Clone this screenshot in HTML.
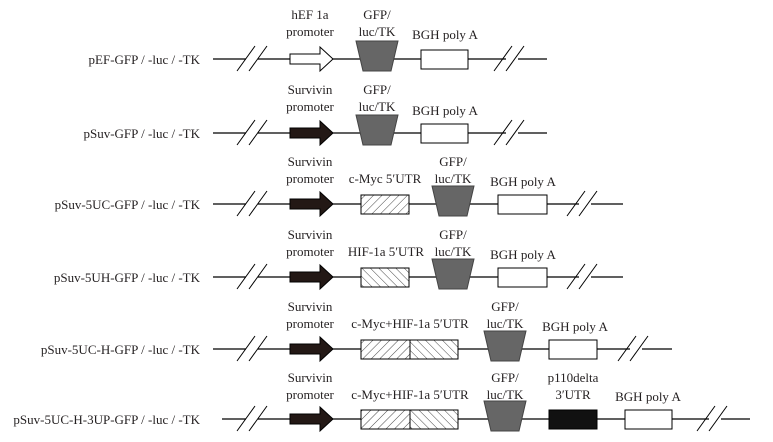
<!DOCTYPE html>
<html><head><meta charset="utf-8"><style>
html,body{margin:0;padding:0;background:#fff;}
svg{display:block;}
text{font-family:"Liberation Serif",serif;font-size:13px;fill:#231f20;}
</style></head><body>
<svg width="773" height="442" viewBox="0 0 773 442" xmlns="http://www.w3.org/2000/svg">
<defs>
<pattern id="hr" width="6" height="6" patternUnits="userSpaceOnUse" patternTransform="rotate(45)"><rect width="6" height="6" fill="#fff"/><line x1="0" y1="0" x2="0" y2="6" stroke="#333" stroke-width="0.9"/></pattern>
<pattern id="hl" width="6" height="6" patternUnits="userSpaceOnUse" patternTransform="rotate(-45)"><rect width="6" height="6" fill="#fff"/><line x1="0" y1="0" x2="0" y2="6" stroke="#333" stroke-width="0.9"/></pattern>
<g id="sl"><line x1="0" y1="12" x2="18" y2="-13" stroke="#000" stroke-width="1"/><line x1="12" y1="12" x2="30" y2="-13" stroke="#000" stroke-width="1"/></g>
<path id="arw" d="M0,-5 H30 V-12 L43,0 L30,12 V5 H0 Z"/>
<path id="trap" d="M0,-19 H42 L35,11 H7 Z" fill="#666" stroke="#444" stroke-width="1"/>
</defs>
<g stroke="#000" stroke-width="1.2" fill="none">
<path d="M213,59H246M258,59H506M518,59H547"/>
<path d="M213,133H246M258,133H506M518,133H547"/>
<path d="M213,204H246M258,204H579M591,204H623"/>
<path d="M213,277H246M258,277H579M591,277H623"/>
<path d="M213,349H246M258,349H630M642,349H672"/>
<path d="M222,419H246M258,419H709M721,419H750"/>
</g>
<g transform="translate(237,59)"><use href="#sl"/></g><g transform="translate(494,59)"><use href="#sl"/></g>
<g transform="translate(237,133)"><use href="#sl"/></g><g transform="translate(494,133)"><use href="#sl"/></g>
<g transform="translate(237,204)"><use href="#sl"/></g><g transform="translate(567,204)"><use href="#sl"/></g>
<g transform="translate(237,277)"><use href="#sl"/></g><g transform="translate(567,277)"><use href="#sl"/></g>
<g transform="translate(237,349)"><use href="#sl"/></g><g transform="translate(618,349)"><use href="#sl"/></g>
<g transform="translate(237,419)"><use href="#sl"/></g><g transform="translate(697,419)"><use href="#sl"/></g>

<g transform="translate(290,59)"><use href="#arw" fill="#fff" stroke="#000" stroke-width="1"/></g>
<g transform="translate(290,133)"><use href="#arw" fill="#231815" stroke="#000"/></g>
<g transform="translate(290,204)"><use href="#arw" fill="#231815" stroke="#000"/></g>
<g transform="translate(290,277)"><use href="#arw" fill="#231815" stroke="#000"/></g>
<g transform="translate(290,349)"><use href="#arw" fill="#231815" stroke="#000"/></g>
<g transform="translate(290,419)"><use href="#arw" fill="#231815" stroke="#000"/></g>

<g transform="translate(356,60)"><use href="#trap"/></g>
<g transform="translate(356,134)"><use href="#trap"/></g>
<g transform="translate(432,205)"><use href="#trap"/></g>
<g transform="translate(432,278)"><use href="#trap"/></g>
<g transform="translate(484,350)"><use href="#trap"/></g>
<g transform="translate(484,420)"><use href="#trap"/></g>

<g stroke="#000" stroke-width="1">
<rect x="421" y="50" width="47" height="19" fill="#fff"/>
<rect x="421" y="124" width="47" height="19" fill="#fff"/>
<rect x="361" y="195" width="48" height="19" fill="url(#hr)"/>
<rect x="498" y="195" width="49" height="19" fill="#fff"/>
<rect x="361" y="268" width="48" height="19" fill="url(#hl)"/>
<rect x="498" y="268" width="49" height="19" fill="#fff"/>
<rect x="361" y="340" width="49" height="19" fill="url(#hr)"/>
<rect x="410" y="340" width="48" height="19" fill="url(#hl)"/>
<rect x="549" y="340" width="48" height="19" fill="#fff"/>
<rect x="361" y="410" width="49" height="19" fill="url(#hr)"/>
<rect x="410" y="410" width="48" height="19" fill="url(#hl)"/>
<rect x="549" y="410" width="48" height="19" fill="#111"/>
<rect x="625" y="410" width="47" height="19" fill="#fff"/>
</g>

<g text-anchor="end">
<text x="200" y="64">pEF-GFP / -luc / -TK</text>
<text x="200" y="138">pSuv-GFP / -luc / -TK</text>
<text x="200" y="209">pSuv-5UC-GFP / -luc / -TK</text>
<text x="200" y="282">pSuv-5UH-GFP / -luc / -TK</text>
<text x="200" y="354">pSuv-5UC-H-GFP / -luc / -TK</text>
<text x="200" y="424">pSuv-5UC-H-3UP-GFP / -luc / -TK</text>
</g>

<g text-anchor="middle">
<text x="310" y="19">hEF 1a</text><text x="310" y="36">promoter</text>
<text x="377" y="19">GFP/</text><text x="377" y="36">luc/TK</text>
<text x="445" y="39">BGH poly A</text>
<text x="310" y="94">Survivin</text><text x="310" y="111">promoter</text>
<text x="377" y="94">GFP/</text><text x="377" y="111">luc/TK</text>
<text x="445" y="115">BGH poly A</text>
<text x="310" y="166">Survivin</text><text x="310" y="183">promoter</text>
<text x="385" y="183">c-Myc 5′UTR</text>
<text x="453" y="166">GFP/</text><text x="453" y="183">luc/TK</text>
<text x="523" y="186">BGH poly A</text>
<text x="310" y="239">Survivin</text><text x="310" y="256">promoter</text>
<text x="386" y="256">HIF-1a 5′UTR</text>
<text x="453" y="239">GFP/</text><text x="453" y="256">luc/TK</text>
<text x="523" y="259">BGH poly A</text>
<text x="310" y="311">Survivin</text><text x="310" y="328">promoter</text>
<text x="410" y="328">c-Myc+HIF-1a 5′UTR</text>
<text x="505" y="311">GFP/</text><text x="505" y="328">luc/TK</text>
<text x="575" y="331">BGH poly A</text>
<text x="310" y="382">Survivin</text><text x="310" y="399">promoter</text>
<text x="410" y="399">c-Myc+HIF-1a 5′UTR</text>
<text x="505" y="382">GFP/</text><text x="505" y="399">luc/TK</text>
<text x="573" y="382">p110delta</text><text x="573" y="399">3′UTR</text>
<text x="648" y="401">BGH poly A</text>
</g>
</svg>
</body></html>
